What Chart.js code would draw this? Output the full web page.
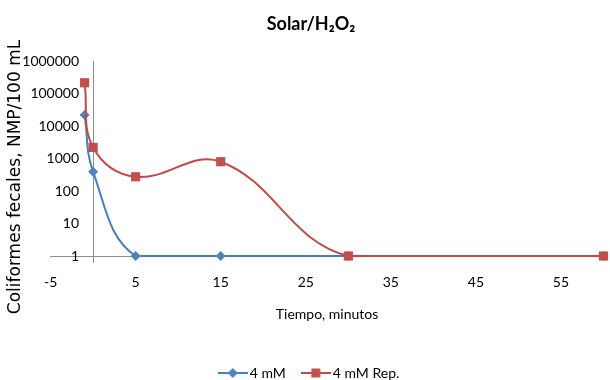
<!DOCTYPE html>
<html>
<head>
<meta charset="utf-8">
<script src="https://cdn.jsdelivr.net/npm/chart.js@4.4.0/dist/chart.umd.min.js"></script>
<style>
  html, body { margin: 0; padding: 0; background: #fff; }
</style>
</head>
<body>
<canvas id="chart" width="610" height="380"></canvas>
<script>
(function() {
    'use strict';

    // data
    var chartTitle = 'Solar/H\u2082O\u2082';
    var xTitle = 'Tiempo, minutos';
    var yTitle = 'Coliformes fecales, NMP/100 mL';
    var seriesNames = ['4 mM', '4 mM Rep.'];
    var time4mM = [-1, 0, 5, 15, 30, 60];
    var values4mM = [22000, 390, 1, 1, 1, 1];
    var timeRep = [-1, 0, 5, 15, 30, 60];
    var valuesRep = [215000, 2200, 275, 800, 1, 1];
    var xTicks = [-5, 0, 5, 15, 25, 35, 45, 55];
    var yTicks = [1, 10, 100, 1000, 10000, 100000, 1000000];

    var blue = '#4A7EBB', blueFill = '#4F81BD';
    var red = '#BE4B48', redFill = '#C0504D';
    var axisGray = '#8C8C8C';
    var font = 'Lato, "Liberation Sans", sans-serif';

    function pairs(xs, ys) {
        return xs.map(function(x, i) { return { x: x, y: ys[i] }; });
    }

    // line-with-marker swatch for the legend
    function legendGlyph(line, fill, shape) {
        var c = document.createElement('canvas');
        c.width = 30;
        c.height = 14;
        var g = c.getContext('2d');
        g.strokeStyle = line;
        g.lineWidth = 2;
        g.beginPath();
        g.moveTo(0, 7);
        g.lineTo(30, 7);
        g.stroke();
        g.fillStyle = fill;
        g.beginPath();
        if (shape === 'diamond') {
            g.moveTo(15, 2); g.lineTo(20, 7); g.lineTo(15, 12); g.lineTo(10, 7);
        } else {
            g.rect(10.5, 2.5, 9, 9);
        }
        g.closePath();
        g.fill();
        return c;
    }

    // rotated y title (Excel puts it lower than the scale centre)
    var yTitlePlugin = {
        id: 'yTitle',
        afterDraw: function(chart) {
            var ctx = chart.ctx;
            ctx.save();
            ctx.translate(16, 177);
            ctx.rotate(-Math.PI / 2);
            ctx.font = '17px "DejaVu Sans", sans-serif';
            ctx.fillStyle = '#000';
            ctx.textAlign = 'center';
            ctx.textBaseline = 'middle';
            ctx.fillText(yTitle, 0, 0);
            ctx.restore();
        }
    };

    var ctx = document.getElementById('chart').getContext('2d');
    new Chart(ctx, {
        type: 'line',
        data: {
            datasets: [{
                label: seriesNames[0],
                data: pairs(time4mM, values4mM),
                xAxisID: 'x',
                yAxisID: 'y',
                borderColor: blue,
                backgroundColor: blueFill,
                borderWidth: 2,
                pointStyle: 'rectRot',
                pointRadius: 5,
                pointBorderWidth: 0,
                tension: 0.4,
                clip: false,
                order: 1
            }, {
                label: seriesNames[1],
                data: pairs(timeRep, valuesRep),
                xAxisID: 'x',
                yAxisID: 'y',
                borderColor: red,
                backgroundColor: redFill,
                borderWidth: 2,
                pointStyle: 'rect',
                pointRadius: 6.5,
                pointBorderWidth: 0,
                tension: 0.4,
                clip: false,
                order: 0
            }]
        },
        options: {
            responsive: false,
            animation: false,
            layout: { padding: { left: 17, right: 5, top: 0, bottom: -10 } },
            plugins: {
                title: {
                    display: true,
                    text: chartTitle,
                    color: '#000',
                    font: { family: font, size: 18, weight: 'bold' },
                    padding: { top: 13.5, bottom: 26 }
                },
                legend: {
                    position: 'bottom',
                    labels: {
                        usePointStyle: true,
                        pointStyleWidth: 20,
                        padding: 20,
                        color: '#000',
                        font: { family: font, size: 14 },
                        generateLabels: function() {
                            return [{
                                text: seriesNames[0],
                                pointStyle: legendGlyph(blue, blueFill, 'diamond'),
                                fillStyle: blueFill,
                                strokeStyle: blue,
                                lineWidth: 0,
                                hidden: false,
                                datasetIndex: 0
                            }, {
                                text: seriesNames[1],
                                pointStyle: legendGlyph(red, redFill, 'square'),
                                fillStyle: redFill,
                                strokeStyle: red,
                                lineWidth: 0,
                                hidden: false,
                                datasetIndex: 1
                            }];
                        }
                    }
                },
                tooltip: { enabled: false }
            },
            scales: {
                x: {
                    type: 'linear',
                    min: -5,
                    max: 60,
                    afterBuildTicks: function(scale) {
                        scale.ticks = xTicks.map(function(v) { return { value: v }; });
                    },
                    // only the x = 0 line is drawn: it is the vertical axis
                    grid: {
                        drawOnChartArea: true,
                        drawTicks: true,
                        tickLength: 7,
                        color: function(c) { return c.tick && c.tick.value === 0 ? axisGray : 'rgba(0,0,0,0)'; },
                        tickColor: function(c) { return c.tick && c.tick.value === 0 ? axisGray : 'rgba(0,0,0,0)'; }
                    },
                    border: { display: true, color: axisGray, width: 1 },
                    ticks: {
                        color: '#000',
                        padding: 11,
                        maxRotation: 0,
                        autoSkip: false,
                        font: { family: font, size: 14 },
                        callback: function(v) { return v === 0 ? '' : String(v); }
                    },
                    title: {
                        display: true,
                        text: xTitle,
                        color: '#000',
                        font: { family: font, size: 14 },
                        padding: { top: 3.8, bottom: 23.6 }
                    }
                },
                y: {
                    type: 'logarithmic',
                    position: { x: -1.65 },
                    min: 1,
                    max: 1000000,
                    afterBuildTicks: function(scale) {
                        scale.ticks = yTicks.map(function(v) { return { value: v, major: false }; });
                    },
                    grid: { drawOnChartArea: false, drawTicks: false },
                    border: { display: false },
                    ticks: {
                        color: '#000',
                        font: { family: font, size: 14 },
                        callback: function(v) { return String(v); }
                    }
                },
                // empty left box that only reserves room for the y title
                yPad: {
                    type: 'linear',
                    position: 'left',
                    display: true,
                    afterFit: function(scale) { scale.width = 33.6; },
                    grid: { display: false },
                    border: { display: false },
                    ticks: { display: false }
                }
            }
        },
        plugins: [yTitlePlugin]
    });
})();
</script>
</body>
</html>
